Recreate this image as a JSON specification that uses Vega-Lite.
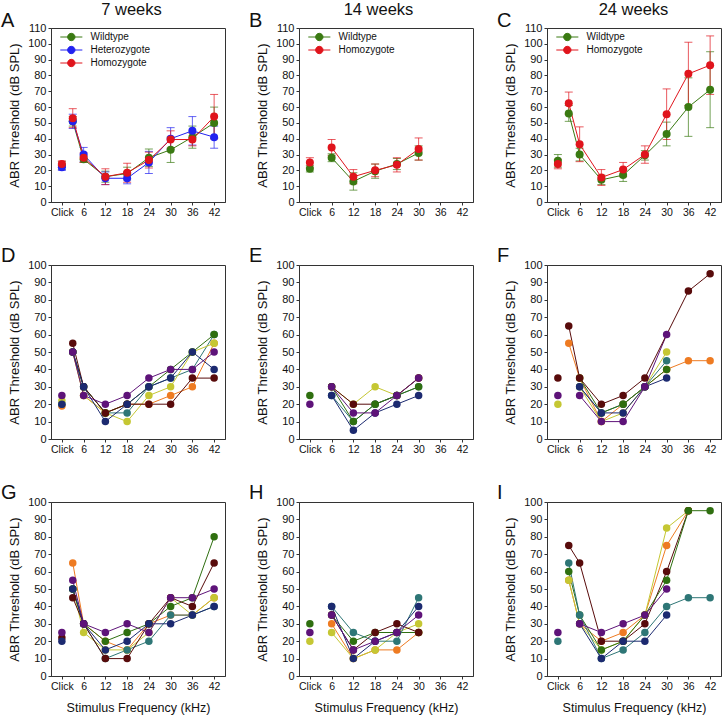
{
"$schema": "https://vega.github.io/schema/vega-lite/v6.json",
"padding": {"left": 0, "top": 0, "right": 0, "bottom": 0},
"datasets": {
"means": [
{"p":"A","g":"Wildtype","f":0,"v":23,"e":2.5},{"p":"A","g":"Wildtype","f":3,"v":51,"e":3},{"p":"A","g":"Wildtype","f":6,"v":27,"e":2},{"p":"A","g":"Wildtype","f":12,"v":16,"e":3.5},{"p":"A","g":"Wildtype","f":18,"v":18,"e":4},{"p":"A","g":"Wildtype","f":24,"v":28,"e":5.5},{"p":"A","g":"Wildtype","f":30,"v":33,"e":8},{"p":"A","g":"Wildtype","f":36,"v":41,"e":7},{"p":"A","g":"Wildtype","f":42,"v":50,"e":10},
{"p":"A","g":"Heterozygote","f":0,"v":22,"e":2},{"p":"A","g":"Heterozygote","f":3,"v":51,"e":4.5},{"p":"A","g":"Heterozygote","f":6,"v":30,"e":4.5},{"p":"A","g":"Heterozygote","f":12,"v":15,"e":4},{"p":"A","g":"Heterozygote","f":18,"v":15,"e":3.5},{"p":"A","g":"Heterozygote","f":24,"v":25,"e":7},{"p":"A","g":"Heterozygote","f":30,"v":40,"e":7},{"p":"A","g":"Heterozygote","f":36,"v":45,"e":9},{"p":"A","g":"Heterozygote","f":42,"v":41,"e":7},
{"p":"A","g":"Homozygote","f":0,"v":24,"e":2},{"p":"A","g":"Homozygote","f":3,"v":53,"e":6},{"p":"A","g":"Homozygote","f":6,"v":28,"e":3},{"p":"A","g":"Homozygote","f":12,"v":16,"e":5},{"p":"A","g":"Homozygote","f":18,"v":18.5,"e":6},{"p":"A","g":"Homozygote","f":24,"v":26.5,"e":5},{"p":"A","g":"Homozygote","f":30,"v":39.5,"e":5.5},{"p":"A","g":"Homozygote","f":36,"v":39.5,"e":4},{"p":"A","g":"Homozygote","f":42,"v":54,"e":14},
{"p":"B","g":"Wildtype","f":0,"v":21,"e":2},{"p":"B","g":"Wildtype","f":6,"v":28,"e":2.5},{"p":"B","g":"Wildtype","f":12,"v":13,"e":5.5},{"p":"B","g":"Wildtype","f":18,"v":19.5,"e":4.5},{"p":"B","g":"Wildtype","f":24,"v":24,"e":3.5},{"p":"B","g":"Wildtype","f":30,"v":31,"e":4.5},
{"p":"B","g":"Homozygote","f":0,"v":25,"e":3},{"p":"B","g":"Homozygote","f":6,"v":34.5,"e":5},{"p":"B","g":"Homozygote","f":12,"v":16,"e":4.5},{"p":"B","g":"Homozygote","f":18,"v":20,"e":4},{"p":"B","g":"Homozygote","f":24,"v":23.5,"e":4.5},{"p":"B","g":"Homozygote","f":30,"v":33.5,"e":7},
{"p":"C","g":"Wildtype","f":0,"v":26,"e":4},{"p":"C","g":"Wildtype","f":3,"v":56,"e":5},{"p":"C","g":"Wildtype","f":6,"v":30,"e":4},{"p":"C","g":"Wildtype","f":12,"v":14,"e":3},{"p":"C","g":"Wildtype","f":18,"v":17,"e":4},{"p":"C","g":"Wildtype","f":24,"v":29.5,"e":3},{"p":"C","g":"Wildtype","f":30,"v":43,"e":7.5},{"p":"C","g":"Wildtype","f":36,"v":60,"e":18.5},{"p":"C","g":"Wildtype","f":42,"v":71,"e":24},
{"p":"C","g":"Homozygote","f":0,"v":24,"e":3},{"p":"C","g":"Homozygote","f":3,"v":62.5,"e":7},{"p":"C","g":"Homozygote","f":6,"v":36.5,"e":11},{"p":"C","g":"Homozygote","f":12,"v":15.5,"e":5},{"p":"C","g":"Homozygote","f":18,"v":20.5,"e":4.5},{"p":"C","g":"Homozygote","f":24,"v":30,"e":5.5},{"p":"C","g":"Homozygote","f":30,"v":55.5,"e":16},{"p":"C","g":"Homozygote","f":36,"v":81,"e":20},{"p":"C","g":"Homozygote","f":42,"v":86.5,"e":18.5}
],
"indiv": [
{"p":"D","a":"o","f":0,"v":19},{"p":"D","a":"o","f":3,"v":50},{"p":"D","a":"o","f":6,"v":25},{"p":"D","a":"o","f":12,"v":15},{"p":"D","a":"o","f":18,"v":20},{"p":"D","a":"o","f":24,"v":20},{"p":"D","a":"o","f":30,"v":25},{"p":"D","a":"o","f":36,"v":30},{"p":"D","a":"o","f":42,"v":55},
{"p":"D","a":"t","f":0,"v":20},{"p":"D","a":"t","f":3,"v":50},{"p":"D","a":"t","f":6,"v":30},{"p":"D","a":"t","f":12,"v":15},{"p":"D","a":"t","f":18,"v":15},{"p":"D","a":"t","f":24,"v":30},{"p":"D","a":"t","f":30,"v":35},{"p":"D","a":"t","f":36,"v":40},{"p":"D","a":"t","f":42,"v":60},
{"p":"D","a":"y","f":0,"v":22},{"p":"D","a":"y","f":3,"v":50},{"p":"D","a":"y","f":6,"v":25},{"p":"D","a":"y","f":12,"v":15},{"p":"D","a":"y","f":18,"v":10},{"p":"D","a":"y","f":24,"v":25},{"p":"D","a":"y","f":30,"v":30},{"p":"D","a":"y","f":36,"v":50},{"p":"D","a":"y","f":42,"v":55},
{"p":"D","a":"g","f":3,"v":50},{"p":"D","a":"g","f":6,"v":30},{"p":"D","a":"g","f":12,"v":15},{"p":"D","a":"g","f":18,"v":20},{"p":"D","a":"g","f":24,"v":30},{"p":"D","a":"g","f":30,"v":40},{"p":"D","a":"g","f":36,"v":50},{"p":"D","a":"g","f":42,"v":60},
{"p":"D","a":"m","f":3,"v":55},{"p":"D","a":"m","f":6,"v":30},{"p":"D","a":"m","f":12,"v":15},{"p":"D","a":"m","f":18,"v":20},{"p":"D","a":"m","f":24,"v":20},{"p":"D","a":"m","f":30,"v":20},{"p":"D","a":"m","f":36,"v":35},{"p":"D","a":"m","f":42,"v":35},
{"p":"D","a":"n","f":0,"v":20},{"p":"D","a":"n","f":3,"v":50},{"p":"D","a":"n","f":6,"v":30},{"p":"D","a":"n","f":12,"v":10},{"p":"D","a":"n","f":18,"v":20},{"p":"D","a":"n","f":24,"v":30},{"p":"D","a":"n","f":30,"v":35},{"p":"D","a":"n","f":36,"v":50},{"p":"D","a":"n","f":42,"v":40},
{"p":"D","a":"p","f":0,"v":25},{"p":"D","a":"p","f":3,"v":50},{"p":"D","a":"p","f":6,"v":25},{"p":"D","a":"p","f":12,"v":20},{"p":"D","a":"p","f":18,"v":25},{"p":"D","a":"p","f":24,"v":35},{"p":"D","a":"p","f":30,"v":40},{"p":"D","a":"p","f":36,"v":40},{"p":"D","a":"p","f":42,"v":50},
{"p":"E","a":"y","f":6,"v":30},{"p":"E","a":"y","f":12,"v":20},{"p":"E","a":"y","f":18,"v":30},{"p":"E","a":"y","f":24,"v":25},{"p":"E","a":"y","f":30,"v":35},
{"p":"E","a":"m","f":6,"v":30},{"p":"E","a":"m","f":12,"v":20},{"p":"E","a":"m","f":18,"v":20},{"p":"E","a":"m","f":24,"v":25},{"p":"E","a":"m","f":30,"v":35},
{"p":"E","a":"t","f":6,"v":25},{"p":"E","a":"t","f":12,"v":10},{"p":"E","a":"t","f":18,"v":20},{"p":"E","a":"t","f":24,"v":25},{"p":"E","a":"t","f":30,"v":30},
{"p":"E","a":"g","f":0,"v":25},{"p":"E","a":"g","f":6,"v":30},{"p":"E","a":"g","f":12,"v":10},{"p":"E","a":"g","f":18,"v":20},{"p":"E","a":"g","f":24,"v":25},{"p":"E","a":"g","f":30,"v":30},
{"p":"E","a":"n","f":6,"v":25},{"p":"E","a":"n","f":12,"v":5},{"p":"E","a":"n","f":18,"v":15},{"p":"E","a":"n","f":24,"v":20},{"p":"E","a":"n","f":30,"v":25},
{"p":"E","a":"p","f":0,"v":20},{"p":"E","a":"p","f":6,"v":30},{"p":"E","a":"p","f":12,"v":15},{"p":"E","a":"p","f":18,"v":15},{"p":"E","a":"p","f":24,"v":25},{"p":"E","a":"p","f":30,"v":35},
{"p":"F","a":"o","f":3,"v":55},{"p":"F","a":"o","f":6,"v":35},{"p":"F","a":"o","f":12,"v":10},{"p":"F","a":"o","f":18,"v":20},{"p":"F","a":"o","f":24,"v":30},{"p":"F","a":"o","f":30,"v":40},{"p":"F","a":"o","f":36,"v":45},{"p":"F","a":"o","f":42,"v":45},
{"p":"F","a":"y","f":0,"v":20},{"p":"F","a":"y","f":6,"v":30},{"p":"F","a":"y","f":12,"v":10},{"p":"F","a":"y","f":18,"v":15},{"p":"F","a":"y","f":24,"v":30},{"p":"F","a":"y","f":30,"v":50},
{"p":"F","a":"t","f":6,"v":30},{"p":"F","a":"t","f":12,"v":15},{"p":"F","a":"t","f":18,"v":20},{"p":"F","a":"t","f":24,"v":30},{"p":"F","a":"t","f":30,"v":45},
{"p":"F","a":"g","f":6,"v":35},{"p":"F","a":"g","f":12,"v":15},{"p":"F","a":"g","f":18,"v":20},{"p":"F","a":"g","f":24,"v":30},{"p":"F","a":"g","f":30,"v":40},
{"p":"F","a":"n","f":6,"v":30},{"p":"F","a":"n","f":12,"v":15},{"p":"F","a":"n","f":18,"v":15},{"p":"F","a":"n","f":24,"v":30},{"p":"F","a":"n","f":30,"v":35},
{"p":"F","a":"p","f":0,"v":25},{"p":"F","a":"p","f":6,"v":25},{"p":"F","a":"p","f":12,"v":10},{"p":"F","a":"p","f":18,"v":10},{"p":"F","a":"p","f":24,"v":30},{"p":"F","a":"p","f":30,"v":60},
{"p":"F","a":"m","f":0,"v":35},{"p":"F","a":"m","f":3,"v":65},{"p":"F","a":"m","f":6,"v":35},{"p":"F","a":"m","f":12,"v":20},{"p":"F","a":"m","f":18,"v":25},{"p":"F","a":"m","f":24,"v":35},{"p":"F","a":"m","f":36,"v":85},{"p":"F","a":"m","f":42,"v":95},
{"p":"G","a":"o","f":3,"v":65},{"p":"G","a":"o","f":6,"v":30},{"p":"G","a":"o","f":12,"v":20},{"p":"G","a":"o","f":18,"v":15},{"p":"G","a":"o","f":24,"v":30},{"p":"G","a":"o","f":30,"v":35},{"p":"G","a":"o","f":36,"v":35},{"p":"G","a":"o","f":42,"v":45},
{"p":"G","a":"y","f":3,"v":50},{"p":"G","a":"y","f":6,"v":25},{"p":"G","a":"y","f":12,"v":15},{"p":"G","a":"y","f":18,"v":15},{"p":"G","a":"y","f":24,"v":25},{"p":"G","a":"y","f":30,"v":45},{"p":"G","a":"y","f":36,"v":35},{"p":"G","a":"y","f":42,"v":45},
{"p":"G","a":"t","f":3,"v":50},{"p":"G","a":"t","f":6,"v":30},{"p":"G","a":"t","f":12,"v":10},{"p":"G","a":"t","f":18,"v":15},{"p":"G","a":"t","f":24,"v":20},{"p":"G","a":"t","f":30,"v":35},{"p":"G","a":"t","f":36,"v":35},{"p":"G","a":"t","f":42,"v":40},
{"p":"G","a":"g","f":3,"v":50},{"p":"G","a":"g","f":6,"v":30},{"p":"G","a":"g","f":12,"v":20},{"p":"G","a":"g","f":18,"v":25},{"p":"G","a":"g","f":24,"v":30},{"p":"G","a":"g","f":30,"v":40},{"p":"G","a":"g","f":36,"v":45},{"p":"G","a":"g","f":42,"v":80},
{"p":"G","a":"m","f":0,"v":22},{"p":"G","a":"m","f":3,"v":45},{"p":"G","a":"m","f":6,"v":30},{"p":"G","a":"m","f":12,"v":10},{"p":"G","a":"m","f":18,"v":10},{"p":"G","a":"m","f":24,"v":30},{"p":"G","a":"m","f":30,"v":45},{"p":"G","a":"m","f":36,"v":40},{"p":"G","a":"m","f":42,"v":65},
{"p":"G","a":"n","f":0,"v":20},{"p":"G","a":"n","f":3,"v":50},{"p":"G","a":"n","f":6,"v":30},{"p":"G","a":"n","f":12,"v":15},{"p":"G","a":"n","f":18,"v":20},{"p":"G","a":"n","f":24,"v":30},{"p":"G","a":"n","f":30,"v":30},{"p":"G","a":"n","f":36,"v":35},{"p":"G","a":"n","f":42,"v":40},
{"p":"G","a":"p","f":0,"v":25},{"p":"G","a":"p","f":3,"v":55},{"p":"G","a":"p","f":6,"v":30},{"p":"G","a":"p","f":12,"v":25},{"p":"G","a":"p","f":18,"v":30},{"p":"G","a":"p","f":24,"v":25},{"p":"G","a":"p","f":30,"v":45},{"p":"G","a":"p","f":36,"v":45},{"p":"G","a":"p","f":42,"v":50},
{"p":"H","a":"o","f":6,"v":30},{"p":"H","a":"o","f":12,"v":10},{"p":"H","a":"o","f":18,"v":15},{"p":"H","a":"o","f":24,"v":15},{"p":"H","a":"o","f":30,"v":25},
{"p":"H","a":"y","f":0,"v":20},{"p":"H","a":"y","f":6,"v":25},{"p":"H","a":"y","f":12,"v":10},{"p":"H","a":"y","f":18,"v":15},{"p":"H","a":"y","f":24,"v":25},{"p":"H","a":"y","f":30,"v":30},
{"p":"H","a":"g","f":0,"v":30},{"p":"H","a":"g","f":6,"v":35},{"p":"H","a":"g","f":12,"v":20},{"p":"H","a":"g","f":18,"v":25},{"p":"H","a":"g","f":24,"v":25},{"p":"H","a":"g","f":30,"v":25},
{"p":"H","a":"m","f":6,"v":35},{"p":"H","a":"m","f":12,"v":15},{"p":"H","a":"m","f":18,"v":25},{"p":"H","a":"m","f":24,"v":30},{"p":"H","a":"m","f":30,"v":25},
{"p":"H","a":"t","f":6,"v":40},{"p":"H","a":"t","f":12,"v":25},{"p":"H","a":"t","f":18,"v":20},{"p":"H","a":"t","f":24,"v":20},{"p":"H","a":"t","f":30,"v":45},
{"p":"H","a":"n","f":6,"v":40},{"p":"H","a":"n","f":12,"v":10},{"p":"H","a":"n","f":18,"v":20},{"p":"H","a":"n","f":24,"v":25},{"p":"H","a":"n","f":30,"v":40},
{"p":"H","a":"p","f":0,"v":25},{"p":"H","a":"p","f":6,"v":35},{"p":"H","a":"p","f":12,"v":15},{"p":"H","a":"p","f":18,"v":20},{"p":"H","a":"p","f":24,"v":25},{"p":"H","a":"p","f":30,"v":35},
{"p":"I","a":"o","f":3,"v":55},{"p":"I","a":"o","f":6,"v":30},{"p":"I","a":"o","f":12,"v":20},{"p":"I","a":"o","f":18,"v":25},{"p":"I","a":"o","f":24,"v":35},{"p":"I","a":"o","f":30,"v":75},{"p":"I","a":"o","f":36,"v":95},
{"p":"I","a":"y","f":3,"v":55},{"p":"I","a":"y","f":6,"v":30},{"p":"I","a":"y","f":12,"v":15},{"p":"I","a":"y","f":18,"v":20},{"p":"I","a":"y","f":24,"v":35},{"p":"I","a":"y","f":30,"v":85},{"p":"I","a":"y","f":36,"v":95},
{"p":"I","a":"m","f":3,"v":75},{"p":"I","a":"m","f":6,"v":65},{"p":"I","a":"m","f":12,"v":20},{"p":"I","a":"m","f":18,"v":20},{"p":"I","a":"m","f":24,"v":30},{"p":"I","a":"m","f":30,"v":60},{"p":"I","a":"m","f":36,"v":95},
{"p":"I","a":"g","f":3,"v":60},{"p":"I","a":"g","f":6,"v":35},{"p":"I","a":"g","f":12,"v":15},{"p":"I","a":"g","f":18,"v":20},{"p":"I","a":"g","f":24,"v":35},{"p":"I","a":"g","f":30,"v":55},{"p":"I","a":"g","f":36,"v":95},{"p":"I","a":"g","f":42,"v":95},
{"p":"I","a":"t","f":0,"v":20},{"p":"I","a":"t","f":3,"v":65},{"p":"I","a":"t","f":6,"v":35},{"p":"I","a":"t","f":12,"v":10},{"p":"I","a":"t","f":18,"v":15},{"p":"I","a":"t","f":24,"v":25},{"p":"I","a":"t","f":30,"v":40},{"p":"I","a":"t","f":36,"v":45},{"p":"I","a":"t","f":42,"v":45},
{"p":"I","a":"n","f":6,"v":30},{"p":"I","a":"n","f":12,"v":10},{"p":"I","a":"n","f":18,"v":20},{"p":"I","a":"n","f":24,"v":20},{"p":"I","a":"n","f":30,"v":35},
{"p":"I","a":"p","f":0,"v":25},{"p":"I","a":"p","f":6,"v":30},{"p":"I","a":"p","f":12,"v":25},{"p":"I","a":"p","f":18,"v":30},{"p":"I","a":"p","f":24,"v":35},{"p":"I","a":"p","f":30,"v":50}
]
},
"columns": 3,
"spacing": {"row": 63, "column": 74},
"bounds": "flush",
"resolve": {"scale": {"color": "independent", "x": "independent", "y": "independent"}, "legend": {"color": "independent"}, "axis": {"x": "independent", "y": "independent"}},
"concat": [
{
"width": 174, "height": 174,
"title": {"text": "A", "anchor": "start", "frame": "group", "dx": -50, "dy": 30, "fontSize": 20, "offset": 0},
"data": {"name": "means"},
"transform": [{"filter": "datum.p == 'A'"}],
"resolve": {"axis": {"x": "independent"}},
"encoding": {
"x": {"field": "f", "type": "quantitative", "scale": {"domain": [-3, 45], "nice": false, "zero": false}, "axis": {"values": [0,6,12,18,24,30,36,42], "labelExpr": "datum.value == 0 ? 'Click' : datum.label", "title": null}},
"y": {"field": "v", "type": "quantitative", "scale": {"domain": [0, 110], "nice": false}, "axis": {"values": [0,10,20,30,40,50,60,70,80,90,100,110], "title": "ABR Threshold (dB SPL)"}},
"color": {"field": "g", "type": "nominal", "scale": {"domain": ["Wildtype","Heterozygote","Homozygote"], "range": ["#3a7a12","#2222f0","#e0141c"]}, "legend": {"title": null, "orient": "none", "legendX": 1, "legendY": 4, "symbolType": "M0.9,0L6.9,0M2.9,0A1,1,0,1,1,4.9,0A1,1,0,1,1,2.9,0Z", "symbolSize": 54, "symbolStrokeWidth": 1, "symbolOpacity": 1, "labelOffset": 28.5, "labelFontSize": 10, "rowPadding": 1, "padding": 0}}
},
"layer": [
{"mark": {"type": "errorbar", "ticks": {"size": 8}, "thickness": 1, "opacity": 0.7}, "encoding": {"x": {"field": "f", "type": "quantitative", "axis": null}, "yError": {"field": "e"}}},
{"transform": [{"filter": "datum.f > 0"}], "mark": {"type": "line", "strokeWidth": 1}, "encoding": {
 "x": {"field": "f", "type": "quantitative", "axis": {"orient": "top", "title": "7 weeks", "labels": false, "ticks": false, "domain": false, "titleFontSize": 16.5, "titlePadding": 11, "titleX": 80}}}},
{"mark": {"type": "point", "filled": true, "size": 64, "opacity": 1}}
]
},
{
"width": 174, "height": 174,
"title": {"text": "B", "anchor": "start", "frame": "group", "dx": -50, "dy": 30, "fontSize": 20, "offset": 0},
"data": {"name": "means"},
"transform": [{"filter": "datum.p == 'B'"}],
"resolve": {"axis": {"x": "independent"}},
"encoding": {
"x": {"field": "f", "type": "quantitative", "scale": {"domain": [-3, 45], "nice": false, "zero": false}, "axis": {"values": [0,6,12,18,24,30,36,42], "labelExpr": "datum.value == 0 ? 'Click' : datum.label", "title": null}},
"y": {"field": "v", "type": "quantitative", "scale": {"domain": [0, 110], "nice": false}, "axis": {"values": [0,10,20,30,40,50,60,70,80,90,100,110], "title": "ABR Threshold (dB SPL)"}},
"color": {"field": "g", "type": "nominal", "scale": {"domain": ["Wildtype","Homozygote"], "range": ["#3a7a12","#e0141c"]}, "legend": {"title": null, "orient": "none", "legendX": 1, "legendY": 4, "symbolType": "M0.9,0L6.9,0M2.9,0A1,1,0,1,1,4.9,0A1,1,0,1,1,2.9,0Z", "symbolSize": 54, "symbolStrokeWidth": 1, "symbolOpacity": 1, "labelOffset": 28.5, "labelFontSize": 10, "rowPadding": 1, "padding": 0}}
},
"layer": [
{"mark": {"type": "errorbar", "ticks": {"size": 8}, "thickness": 1, "opacity": 0.7}, "encoding": {"x": {"field": "f", "type": "quantitative", "axis": null}, "yError": {"field": "e"}}},
{"transform": [{"filter": "datum.f > 0"}], "mark": {"type": "line", "strokeWidth": 1}, "encoding": {
 "x": {"field": "f", "type": "quantitative", "axis": {"orient": "top", "title": "14 weeks", "labels": false, "ticks": false, "domain": false, "titleFontSize": 16.5, "titlePadding": 11, "titleX": 79}}}},
{"mark": {"type": "point", "filled": true, "size": 64, "opacity": 1}}
]
},
{
"width": 174, "height": 174,
"title": {"text": "C", "anchor": "start", "frame": "group", "dx": -50, "dy": 30, "fontSize": 20, "offset": 0},
"data": {"name": "means"},
"transform": [{"filter": "datum.p == 'C'"}],
"resolve": {"axis": {"x": "independent"}},
"encoding": {
"x": {"field": "f", "type": "quantitative", "scale": {"domain": [-3, 45], "nice": false, "zero": false}, "axis": {"values": [0,6,12,18,24,30,36,42], "labelExpr": "datum.value == 0 ? 'Click' : datum.label", "title": null}},
"y": {"field": "v", "type": "quantitative", "scale": {"domain": [0, 110], "nice": false}, "axis": {"values": [0,10,20,30,40,50,60,70,80,90,100,110], "title": "ABR Threshold (dB SPL)"}},
"color": {"field": "g", "type": "nominal", "scale": {"domain": ["Wildtype","Homozygote"], "range": ["#3a7a12","#e0141c"]}, "legend": {"title": null, "orient": "none", "legendX": 1, "legendY": 4, "symbolType": "M0.9,0L6.9,0M2.9,0A1,1,0,1,1,4.9,0A1,1,0,1,1,2.9,0Z", "symbolSize": 54, "symbolStrokeWidth": 1, "symbolOpacity": 1, "labelOffset": 28.5, "labelFontSize": 10, "rowPadding": 1, "padding": 0}}
},
"layer": [
{"mark": {"type": "errorbar", "ticks": {"size": 8}, "thickness": 1, "opacity": 0.7}, "encoding": {"x": {"field": "f", "type": "quantitative", "axis": null}, "yError": {"field": "e"}}},
{"transform": [{"filter": "datum.f > 0"}], "mark": {"type": "line", "strokeWidth": 1}, "encoding": {
 "x": {"field": "f", "type": "quantitative", "axis": {"orient": "top", "title": "24 weeks", "labels": false, "ticks": false, "domain": false, "titleFontSize": 16.5, "titlePadding": 11, "titleX": 86}}}},
{"mark": {"type": "point", "filled": true, "size": 64, "opacity": 1}}
]
},
{
"width": 174, "height": 174,
"title": {"text": "D", "anchor": "start", "frame": "group", "dx": -50, "dy": 7, "fontSize": 20, "offset": 0},
"encoding": {
"x": {"field": "f", "type": "quantitative", "scale": {"domain": [-3, 45], "nice": false, "zero": false}, "axis": {"values": [0,6,12,18,24,30,36,42], "labelExpr": "datum.value == 0 ? 'Click' : datum.label", "title": null}},
"y": {"field": "v", "type": "quantitative", "scale": {"domain": [0, 100], "nice": false}, "axis": {"values": [0,10,20,30,40,50,60,70,80,90,100], "title": "ABR Threshold (dB SPL)"}}
},
"layer": [
{"data": {"name": "indiv"}, "transform": [{"filter": "datum.p == 'D' && datum.f > 0"}], "mark": {"type": "line", "strokeWidth": 1}, "encoding": {"color": {"field": "a", "type": "nominal", "scale": {"domain": ["g","n","p","m","o","y","t"], "range": ["#2f6f10","#1c2a70","#5e1379","#580b0b","#ee7b22","#c5c733","#2e7676"]}, "legend": null}}},
{"data": {"name": "indiv"}, "transform": [{"filter": "datum.p == 'D'"}], "mark": {"type": "point", "filled": true, "size": 56, "opacity": 1}, "encoding": {"color": {"field": "a", "type": "nominal", "legend": null}}},
{"data": {"values": [{"t": "Wildtype"}]}, "mark": {"type": "text", "align": "left", "baseline": "alphabetic", "fontSize": 14}, "encoding": {"x": {"datum": -0.8}, "y": {"datum": 91}, "text": {"field": "t"}}}
]
},
{
"width": 174, "height": 174,
"title": {"text": "E", "anchor": "start", "frame": "group", "dx": -50, "dy": 7, "fontSize": 20, "offset": 0},
"encoding": {
"x": {"field": "f", "type": "quantitative", "scale": {"domain": [-3, 45], "nice": false, "zero": false}, "axis": {"values": [0,6,12,18,24,30,36,42], "labelExpr": "datum.value == 0 ? 'Click' : datum.label", "title": null}},
"y": {"field": "v", "type": "quantitative", "scale": {"domain": [0, 100], "nice": false}, "axis": {"values": [0,10,20,30,40,50,60,70,80,90,100], "title": "ABR Threshold (dB SPL)"}}
},
"layer": [
{"data": {"name": "indiv"}, "transform": [{"filter": "datum.p == 'E' && datum.f > 0"}], "mark": {"type": "line", "strokeWidth": 1}, "encoding": {"color": {"field": "a", "type": "nominal", "scale": {"domain": ["g","n","p","m","o","y","t"], "range": ["#2f6f10","#1c2a70","#5e1379","#580b0b","#ee7b22","#c5c733","#2e7676"]}, "legend": null}}},
{"data": {"name": "indiv"}, "transform": [{"filter": "datum.p == 'E'"}], "mark": {"type": "point", "filled": true, "size": 56, "opacity": 1}, "encoding": {"color": {"field": "a", "type": "nominal", "legend": null}}},
{"data": {"values": [{"t": "Wildtype"}]}, "mark": {"type": "text", "align": "left", "baseline": "alphabetic", "fontSize": 14}, "encoding": {"x": {"datum": -0.8}, "y": {"datum": 91}, "text": {"field": "t"}}}
]
},
{
"width": 174, "height": 174,
"title": {"text": "F", "anchor": "start", "frame": "group", "dx": -50, "dy": 7, "fontSize": 20, "offset": 0},
"encoding": {
"x": {"field": "f", "type": "quantitative", "scale": {"domain": [-3, 45], "nice": false, "zero": false}, "axis": {"values": [0,6,12,18,24,30,36,42], "labelExpr": "datum.value == 0 ? 'Click' : datum.label", "title": null}},
"y": {"field": "v", "type": "quantitative", "scale": {"domain": [0, 100], "nice": false}, "axis": {"values": [0,10,20,30,40,50,60,70,80,90,100], "title": "ABR Threshold (dB SPL)"}}
},
"layer": [
{"data": {"name": "indiv"}, "transform": [{"filter": "datum.p == 'F' && datum.f > 0"}], "mark": {"type": "line", "strokeWidth": 1}, "encoding": {"color": {"field": "a", "type": "nominal", "scale": {"domain": ["g","n","p","m","o","y","t"], "range": ["#2f6f10","#1c2a70","#5e1379","#580b0b","#ee7b22","#c5c733","#2e7676"]}, "legend": null}}},
{"data": {"name": "indiv"}, "transform": [{"filter": "datum.p == 'F'"}], "mark": {"type": "point", "filled": true, "size": 56, "opacity": 1}, "encoding": {"color": {"field": "a", "type": "nominal", "legend": null}}},
{"data": {"values": [{"t": "Wildtype"}]}, "mark": {"type": "text", "align": "left", "baseline": "alphabetic", "fontSize": 14}, "encoding": {"x": {"datum": -0.8}, "y": {"datum": 91}, "text": {"field": "t"}}}
]
},
{
"width": 174, "height": 174,
"title": {"text": "G", "anchor": "start", "frame": "group", "dx": -50, "dy": 7, "fontSize": 20, "offset": 0},
"encoding": {
"x": {"field": "f", "type": "quantitative", "scale": {"domain": [-3, 45], "nice": false, "zero": false}, "axis": {"values": [0,6,12,18,24,30,36,42], "labelExpr": "datum.value == 0 ? 'Click' : datum.label", "title": "Stimulus Frequency (kHz)"}},
"y": {"field": "v", "type": "quantitative", "scale": {"domain": [0, 100], "nice": false}, "axis": {"values": [0,10,20,30,40,50,60,70,80,90,100], "title": "ABR Threshold (dB SPL)"}}
},
"layer": [
{"data": {"name": "indiv"}, "transform": [{"filter": "datum.p == 'G' && datum.f > 0"}], "mark": {"type": "line", "strokeWidth": 1}, "encoding": {"color": {"field": "a", "type": "nominal", "scale": {"domain": ["g","n","p","m","o","y","t"], "range": ["#2f6f10","#1c2a70","#5e1379","#580b0b","#ee7b22","#c5c733","#2e7676"]}, "legend": null}}},
{"data": {"name": "indiv"}, "transform": [{"filter": "datum.p == 'G'"}], "mark": {"type": "point", "filled": true, "size": 56, "opacity": 1}, "encoding": {"color": {"field": "a", "type": "nominal", "legend": null}}},
{"data": {"values": [{"t": "Homozygote"}]}, "mark": {"type": "text", "align": "left", "baseline": "alphabetic", "fontSize": 14}, "encoding": {"x": {"datum": -0.8}, "y": {"datum": 91}, "text": {"field": "t"}}}
]
},
{
"width": 174, "height": 174,
"title": {"text": "H", "anchor": "start", "frame": "group", "dx": -50, "dy": 7, "fontSize": 20, "offset": 0},
"encoding": {
"x": {"field": "f", "type": "quantitative", "scale": {"domain": [-3, 45], "nice": false, "zero": false}, "axis": {"values": [0,6,12,18,24,30,36,42], "labelExpr": "datum.value == 0 ? 'Click' : datum.label", "title": "Stimulus Frequency (kHz)"}},
"y": {"field": "v", "type": "quantitative", "scale": {"domain": [0, 100], "nice": false}, "axis": {"values": [0,10,20,30,40,50,60,70,80,90,100], "title": "ABR Threshold (dB SPL)"}}
},
"layer": [
{"data": {"name": "indiv"}, "transform": [{"filter": "datum.p == 'H' && datum.f > 0"}], "mark": {"type": "line", "strokeWidth": 1}, "encoding": {"color": {"field": "a", "type": "nominal", "scale": {"domain": ["g","n","p","m","o","y","t"], "range": ["#2f6f10","#1c2a70","#5e1379","#580b0b","#ee7b22","#c5c733","#2e7676"]}, "legend": null}}},
{"data": {"name": "indiv"}, "transform": [{"filter": "datum.p == 'H'"}], "mark": {"type": "point", "filled": true, "size": 56, "opacity": 1}, "encoding": {"color": {"field": "a", "type": "nominal", "legend": null}}},
{"data": {"values": [{"t": "Homozygote"}]}, "mark": {"type": "text", "align": "left", "baseline": "alphabetic", "fontSize": 14}, "encoding": {"x": {"datum": -0.8}, "y": {"datum": 91}, "text": {"field": "t"}}}
]
},
{
"width": 174, "height": 174,
"title": {"text": "I", "anchor": "start", "frame": "group", "dx": -50, "dy": 7, "fontSize": 20, "offset": 0},
"encoding": {
"x": {"field": "f", "type": "quantitative", "scale": {"domain": [-3, 45], "nice": false, "zero": false}, "axis": {"values": [0,6,12,18,24,30,36,42], "labelExpr": "datum.value == 0 ? 'Click' : datum.label", "title": "Stimulus Frequency (kHz)"}},
"y": {"field": "v", "type": "quantitative", "scale": {"domain": [0, 100], "nice": false}, "axis": {"values": [0,10,20,30,40,50,60,70,80,90,100], "title": "ABR Threshold (dB SPL)"}}
},
"layer": [
{"data": {"name": "indiv"}, "transform": [{"filter": "datum.p == 'I' && datum.f > 0"}], "mark": {"type": "line", "strokeWidth": 1}, "encoding": {"color": {"field": "a", "type": "nominal", "scale": {"domain": ["g","n","p","m","o","y","t"], "range": ["#2f6f10","#1c2a70","#5e1379","#580b0b","#ee7b22","#c5c733","#2e7676"]}, "legend": null}}},
{"data": {"name": "indiv"}, "transform": [{"filter": "datum.p == 'I'"}], "mark": {"type": "point", "filled": true, "size": 56, "opacity": 1}, "encoding": {"color": {"field": "a", "type": "nominal", "legend": null}}},
{"data": {"values": [{"t": "Homozygote"}]}, "mark": {"type": "text", "align": "left", "baseline": "alphabetic", "fontSize": 14}, "encoding": {"x": {"datum": -0.8}, "y": {"datum": 91}, "text": {"field": "t"}}}
]
}
],
"config": {
"font": "Liberation Sans",
"view": {"stroke": "#333333", "strokeWidth": 1},
"axis": {"grid": false, "domainColor": "#333333", "tickColor": "#333333", "tickSize": 3, "labelFontSize": 11, "labelColor": "#111111", "titleFontSize": 13, "titleFontWeight": "normal", "titleColor": "#111111", "labelPadding": 2, "titlePadding": 6, "labelOverlap": false, "labelFlush": false},
"axisX": {"labelFontSize": 10.5, "titleFontSize": 12.5, "titlePadding": 10},
"title": {"fontWeight": "normal", "color": "#111111"},
"legend": {"labelColor": "#111111"},
"text": {"color": "#111111"}
}
}
